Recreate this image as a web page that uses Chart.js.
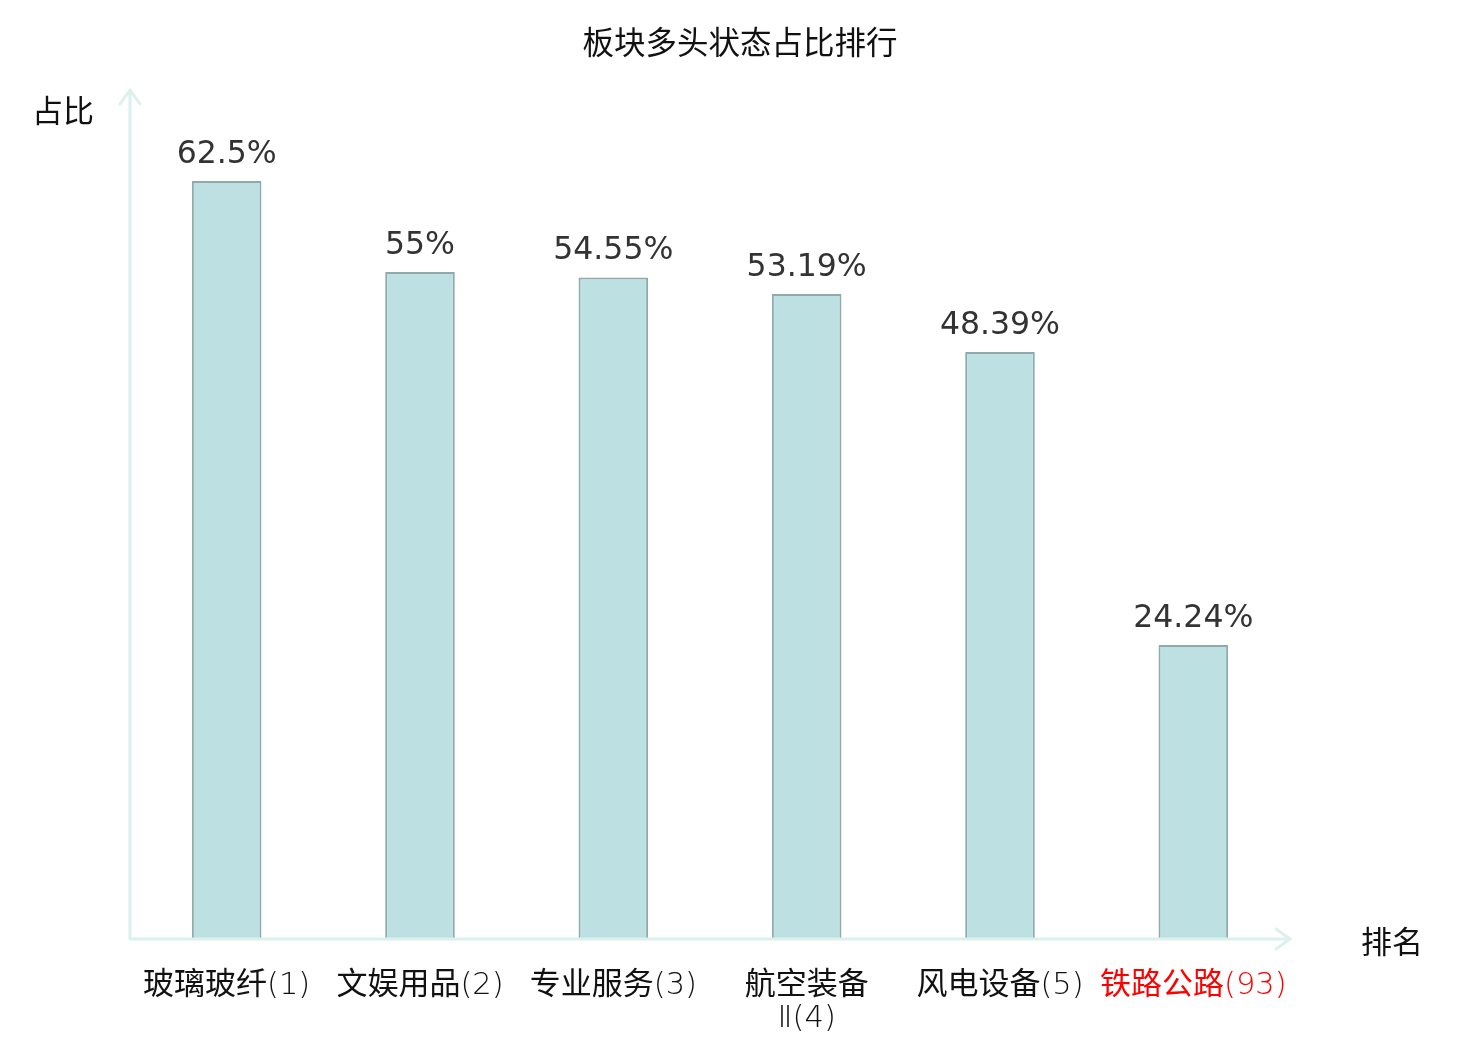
<!DOCTYPE html>
<html>
<head>
<meta charset="utf-8">
<script src="https://cdn.jsdelivr.net/npm/chart.js@4.4.0/dist/chart.umd.min.js"></script>
<style>
  html, body { margin: 0; padding: 0; background: #fff; }
</style>
</head>
<body>
<canvas id="myChart" width="1480" height="1040"></canvas>
<script>
const categories = ['玻璃玻纤(1)', '文娱用品(2)', '专业服务(3)', ['航空装备', 'Ⅱ(4)'], '风电设备(5)', '铁路公路(93)'];
const shares = [62.5, 55, 54.55, 53.19, 48.39, 24.24];
const shareLabels = ['62.5%', '55%', '54.55%', '53.19%', '48.39%', '24.24%'];
const highlightIndex = 5;

const cjk = '"Noto Sans CJK SC", "Noto Sans", sans-serif';
const cjkFont = '31px ' + cjk;
const latinFont = '200 30.5px "DejaVu Sans", sans-serif';
const axisColor = '#dcf1ee';

// chinese in the CJK face, digits and brackets in thin DejaVu
function mixedText(ctx, text, cx, baseY) {
    const runs = text.match(/[\u4e00-\u9fff]+|[^\u4e00-\u9fff]+/g);
    let total = 0;
    const widths = runs.map(r => {
        ctx.font = /[\u4e00-\u9fff]/.test(r) ? cjkFont : latinFont;
        const w = ctx.measureText(r).width;
        total += w;
        return w;
    });
    let px = cx - total / 2;
    ctx.textAlign = 'left';
    ctx.textBaseline = 'alphabetic';
    runs.forEach((r, k) => {
        ctx.font = /[\u4e00-\u9fff]/.test(r) ? cjkFont : latinFont;
        ctx.fillText(r, px, baseY);
        px += widths[k];
    });
}

const decor = {
    id: 'decor',
    afterDraw(chart) {
        const ctx = chart.ctx;
        const x = chart.scales.x;
        const y = chart.scales.y;
        const a = chart.chartArea;
        ctx.save();

        // axes with arrows
        ctx.strokeStyle = axisColor;
        ctx.lineWidth = 3;
        ctx.lineCap = 'round';
        ctx.beginPath();
        ctx.moveTo(a.left, a.bottom);
        ctx.lineTo(a.left, a.top);
        ctx.moveTo(a.left - 10, a.top + 14);
        ctx.lineTo(a.left, a.top);
        ctx.lineTo(a.left + 10, a.top + 14);
        ctx.moveTo(a.left, a.bottom);
        ctx.lineTo(a.right, a.bottom);
        ctx.moveTo(a.right - 14, a.bottom - 10);
        ctx.lineTo(a.right, a.bottom);
        ctx.lineTo(a.right - 14, a.bottom + 10);
        ctx.stroke();

        // value labels
        ctx.fillStyle = '#333';
        ctx.font = '31.5px "DejaVu Sans", sans-serif';
        ctx.textAlign = 'center';
        ctx.textBaseline = 'alphabetic';
        shares.forEach((v, i) => {
            ctx.fillText(shareLabels[i], x.getPixelForValue(i), y.getPixelForValue(v) - 18);
        });

        // category labels
        categories.forEach((c, i) => {
            const lines = Array.isArray(c) ? c : [c];
            ctx.fillStyle = i === highlightIndex ? '#ff0000' : '#111';
            lines.forEach((l, j) => {
                mixedText(ctx, l, x.getPixelForValue(i), a.bottom + 55 + j * 33);
            });
        });

        // axis names
        ctx.fillStyle = '#111';
        ctx.textAlign = 'center';
        ctx.textBaseline = 'middle';
        ctx.font = '31px ' + cjk;
        ctx.fillText('占比', 63, 110);
        ctx.fillText('排名', 1392, 941);

        // title
        ctx.font = '31.5px ' + cjk;
        ctx.fillText('板块多头状态占比排行', 740, 42);
        ctx.restore();
    }
};

new Chart(document.getElementById('myChart'), {
    type: 'bar',
    data: {
        labels: categories,
        datasets: [{
            data: shares,
            backgroundColor: '#bde0e3',
            borderColor: '#8eaaa9',
            borderWidth: 2,
            barPercentage: 0.36,
            categoryPercentage: 1
        }]
    },
    options: {
        responsive: false,
        animation: false,
        devicePixelRatio: 1,
        layout: {
            padding: { left: 130, right: 190, top: 90, bottom: 101 }
        },
        scales: {
            x: { display: false },
            y: { display: false, min: 0, max: 70 }
        },
        plugins: {
            legend: { display: false },
            tooltip: { enabled: false }
        }
    },
    plugins: [decor]
});
</script>
</body>
</html>
